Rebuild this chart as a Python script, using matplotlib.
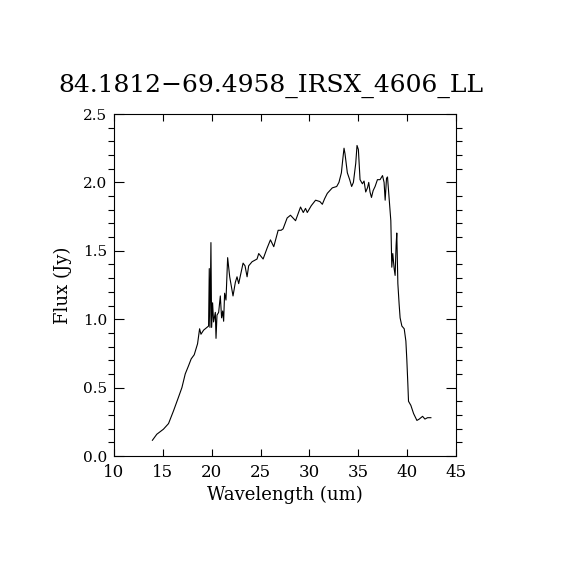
import matplotlib
matplotlib.use("Agg")
import matplotlib.pyplot as plt
from matplotlib.ticker import MultipleLocator, FormatStrFormatter

# spectre
wave = [13.93, 14.38, 15.06, 15.58, 16.09, 16.6, 16.95, 17.29, 17.63, 17.9,
        18.21, 18.55, 18.76, 18.9, 19.17, 19.51, 19.68, 19.75, 19.82, 19.92,
        19.99, 20.09, 20.19, 20.37, 20.44, 20.54, 20.71, 20.88, 21.01, 21.12,
        21.22, 21.32, 21.46, 21.63, 21.84, 22.18, 22.42, 22.59, 22.76, 23.0,
        23.21, 23.41, 23.62, 23.78, 24.13, 24.64, 24.81, 25.26, 25.67, 26.01,
        26.35, 26.8, 27.1, 27.3, 27.72, 28.06, 28.58, 29.09, 29.37, 29.6,
        29.78, 30.19, 30.63, 31.07, 31.32, 31.55, 31.83, 32.34, 32.79, 33.02,
        33.27, 33.4, 33.54, 33.64, 33.88, 34.12, 34.32, 34.5, 34.74, 34.87,
        35.01, 35.18, 35.42, 35.59, 35.76, 35.94, 36.07, 36.2, 36.35, 36.52,
        36.72, 36.96, 37.23, 37.48, 37.64, 37.75, 37.89, 37.99, 38.16, 38.33,
        38.43, 38.53, 38.67, 38.77, 38.87, 38.94, 39.05, 39.18, 39.28, 39.46,
        39.7, 39.87, 39.97, 40.07, 40.14, 40.38, 40.66, 41.0, 41.24, 41.58,
        41.82, 42.09, 42.43]
flux = [0.115, 0.159, 0.196, 0.237, 0.33, 0.43, 0.50, 0.60, 0.66, 0.71,
        0.74, 0.82, 0.93, 0.89, 0.92, 0.94, 0.95, 1.37, 0.94, 1.56,
        0.94, 1.12, 0.98, 1.05, 0.86, 1.03, 1.05, 1.17, 1.01, 1.06,
        0.985, 1.19, 1.14, 1.45, 1.31, 1.17, 1.27, 1.31, 1.26, 1.34,
        1.41, 1.39, 1.31, 1.39, 1.42, 1.44, 1.48, 1.44, 1.52, 1.58,
        1.53, 1.65, 1.65, 1.66, 1.74, 1.76, 1.72, 1.82, 1.78, 1.81,
        1.78, 1.83, 1.87, 1.86, 1.84, 1.88, 1.92, 1.96, 1.97, 2.00,
        2.07, 2.16, 2.25, 2.21, 2.07, 2.02, 1.97, 2.00, 2.14, 2.27,
        2.24, 2.02, 1.99, 2.01, 1.93, 1.96, 2.0, 1.93, 1.89, 1.94,
        1.97, 2.02, 2.02, 2.05, 2.0, 1.87, 2.03, 2.04, 1.88, 1.72,
        1.38, 1.48, 1.37, 1.32, 1.54, 1.63, 1.26, 1.11, 1.01, 0.95,
        0.93, 0.84, 0.70, 0.53, 0.40, 0.37, 0.31, 0.26, 0.27, 0.29,
        0.27, 0.28, 0.28]

titre = "84.1812\u221269.4958_IRSX_4606_LL"

plt.rcParams["font.family"] = ["DejaVu Serif"]

fig = plt.figure(figsize=(5.7, 5.7), dpi=100)
ax = fig.add_axes([0.2, 0.2, 0.6, 0.6])
ax.plot(wave, flux, color="black", linewidth=0.8)

ax.set_xlim(10, 45)
ax.set_ylim(0, 2.5)
ax.xaxis.set_major_locator(MultipleLocator(5))
ax.yaxis.set_major_locator(MultipleLocator(0.5))
ax.yaxis.set_minor_locator(MultipleLocator(0.1))
ax.yaxis.set_major_formatter(FormatStrFormatter("%.1f"))
ax.tick_params(direction="in", top=True, right=True, width=0.8)
ax.tick_params(axis="x", which="major", length=5, labelsize=12, pad=6)
ax.tick_params(axis="y", which="major", length=7, labelsize=11, pad=5)
ax.tick_params(which="minor", length=4, right=True, width=0.8)
for s in ax.spines.values():
    s.set_linewidth(0.8)

ax.set_xlabel("Wavelength (um)", fontsize=13, labelpad=3)
ax.set_ylabel("Flux (Jy)", fontsize=13, labelpad=8)
ax.set_title(titre, fontsize=18, pad=16, x=0.46)

fig.savefig("out.png", dpi=100)
